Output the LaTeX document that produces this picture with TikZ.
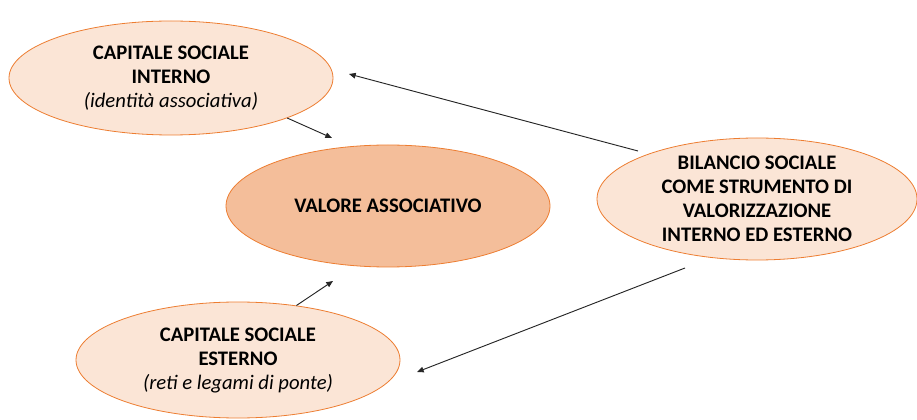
\documentclass[tikz,border=0pt]{standalone}
\usepackage{fontspec}
\setmainfont{Carlito}
\usetikzlibrary{arrows.meta,shapes.geometric}
\definecolor{bordo}{HTML}{ED7D31}
\definecolor{chiaro}{HTML}{FBE5D6}
\definecolor{medio}{HTML}{F4BE9A}
\tikzset{
  bolla/.style={
    ellipse,
    draw=bordo,
    line width=0.6pt,
    fill=chiaro,
    inner sep=0pt,
    align=center,
    font=\fontsize{15.5}{18}\selectfont\bfseries},
  freccia/.style={
    line width=0.7pt,
    black!85},
  punta/.style={
    -{Triangle[length=5pt,width=4.2pt]}}
  }

\begin{document}
\begin{tikzpicture}[x=0.75pt,y=-0.75pt]
    \useasboundingbox (0,0) rectangle (917,420);
    \node[bolla,minimum width=243pt,minimum height=85.5pt] (int) at (171,78)
      {CAPITALE SOCIALE\\INTERNO\\{\mdseries\itshape (identità associativa)}};
    \node[bolla,fill=medio,minimum width=243pt,minimum height=91.5pt] (val) at (388,206)
      {VALORE ASSOCIATIVO};
    \node[bolla,inner ysep=-3pt,minimum width=240pt,minimum height=91.5pt] (bil) at (757,199)
      {BILANCIO SOCIALE\\COME STRUMENTO DI\\VALORIZZAZIONE\\INTERNO ED ESTERNO};
    \node[bolla,minimum width=243pt,minimum height=87pt] (est) at (238,360)
      {CAPITALE SOCIALE\\ESTERNO\\{\mdseries\itshape (reti e legami di ponte)}};
    \coordinate (p1) at (332,138);
    \coordinate (p2a) at (638,151);
    \coordinate (p2) at (349,74);
    \coordinate (p3) at (333,281);
    \coordinate (p4a) at (685,268);
    \coordinate (p4) at (417,372);
    \draw [freccia]
    (int.-19) edge[punta] (p1)
    (p2a) edge[punta] (p2)
    (est.43) edge[punta] (p3)
    (p4a) edge[punta] (p4);
\end{tikzpicture}
\end{document}
